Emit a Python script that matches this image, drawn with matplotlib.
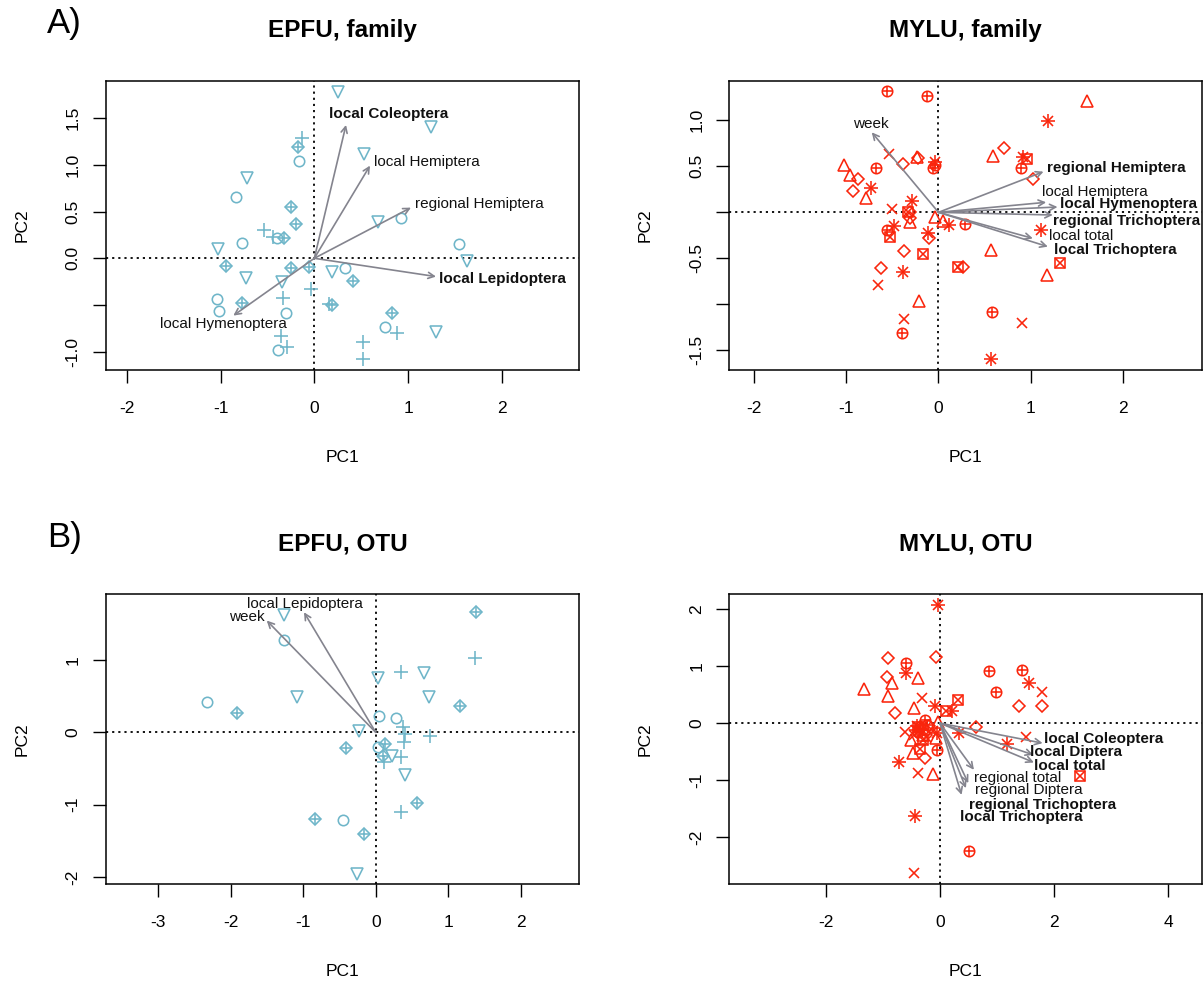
import matplotlib
matplotlib.use("Agg")
import matplotlib.pyplot as plt

plt.rcParams['font.family'] = ['Liberation Sans', 'DejaVu Sans']

CYAN = '#6fb6c9'
RED = '#fa250c'
ARROW = '#84848e'

# ---------------- A) EPFU, family ----------------
epfu_fam_circle = [(-0.167, 1.043), (-0.836, 0.657), (-0.772, 0.168), (-0.395, 0.214),
                   (0.924, 0.429), (1.547, 0.154), (0.324, -0.107), (-1.035, -0.439),
                   (-1.017, -0.561), (-0.299, -0.589), (-0.384, -0.986), (0.757, -0.736)]
epfu_fam_plus = [(-0.135, 1.286), (-0.540, 0.304), (-0.437, 0.232), (-0.032, -0.332),
                 (-0.338, -0.421), (0.160, -0.493), (-0.359, -0.829), (-0.288, -0.946),
                 (0.523, -0.893), (0.516, -1.079), (0.885, -0.804)]
epfu_fam_tri = [(0.256, 1.786), (1.241, 1.411), (0.533, 1.114), (-0.722, 0.864),
                (0.676, 0.386), (-1.024, 0.100), (-0.732, -0.214), (-0.345, -0.257),
                (0.185, -0.143), (1.625, -0.029), (1.294, -0.793)]
epfu_fam_dplus = [(-0.178, 1.196), (-0.249, 0.554), (-0.196, 0.368), (-0.320, 0.214),
                  (-0.939, -0.079), (-0.252, -0.107), (-0.053, -0.096), (0.416, -0.243),
                  (-0.772, -0.482), (0.192, -0.500), (0.832, -0.582)]
# name, arrow tip, label position, bold
epfu_fam_arrows = [('local Coleoptera', (0.338, 1.429), (0.789, 1.547), True),
                   ('local Hemiptera', (0.594, 0.993), (1.199, 1.029), False),
                   ('regional Hemiptera', (1.031, 0.543), (1.764, 0.579), False),
                   ('local Lepidoptera', (1.298, -0.196), (2.007, -0.222), True),
                   ('local Hymenoptera', (-0.864, -0.614), (-0.965, -0.701), False)]

# ---------------- MYLU, family ----------------
mylu_fam_cplus = [(-0.554, 1.319), (-0.127, 1.268), (-0.680, 0.478), (-0.054, 0.486),
                  (-0.040, 0.510), (0.898, 0.486), (0.290, -0.127), (-0.561, -0.192),
                  (0.579, -1.080), (-0.391, -1.315)]
mylu_fam_tri = [(1.614, 1.210), (0.597, 0.609), (-1.021, 0.514), (-0.959, 0.406),
                (-0.785, 0.152), (-0.235, 0.605), (-0.036, -0.047), (0.047, -0.091),
                (-0.308, -0.109), (0.568, -0.409), (1.176, -0.681), (-0.206, -0.964)]
mylu_fam_diamond = [(0.706, 0.703), (-0.387, 0.522), (-0.217, 0.587), (-0.876, 0.359),
                    (-0.923, 0.236), (1.021, 0.359), (-0.308, 0.007), (-0.308, -0.065),
                    (-0.101, -0.275), (-0.376, -0.420), (-0.623, -0.601), (0.271, -0.591)]
mylu_fam_star = [(1.194, 0.996), (0.912, 0.605), (-0.036, 0.551), (-0.731, 0.268),
                 (-0.290, 0.123), (-0.481, -0.145), (-0.109, -0.228), (0.109, -0.138),
                 (1.111, -0.192), (-0.380, -0.645), (0.568, -1.598)]
mylu_fam_cross = [(-0.532, 0.630), (-0.507, 0.033), (-0.655, -0.790), (-0.376, -1.163),
                  (0.905, -1.199)]
mylu_fam_sqx = [(0.966, 0.576), (-0.333, 0.007), (-0.521, -0.272), (-0.170, -0.453),
                (0.210, -0.598), (1.321, -0.554)]
mylu_fam_arrows = [('week', (-0.724, 0.870), (-0.739, 0.960), False),
                   ('regional Hemiptera', (1.140, 0.442), (1.927, 0.485), True),
                   ('local Hemiptera', (1.169, 0.109), (1.696, 0.217), False),
                   ('local Hymenoptera', (1.292, 0.058), (2.062, 0.087), True),
                   ('regional Trichoptera', (1.241, -0.029), (2.041, -0.095), True),
                   ('local total', (1.024, -0.283), (1.553, -0.258), False),
                   ('local Trichoptera', (1.187, -0.373), (1.924, -0.410), True)]

# ---------------- B) EPFU, OTU ----------------
epfu_otu_tri = [(-1.260, 1.624), (-1.080, 0.485), (0.032, 0.757), (0.667, 0.821),
                (0.731, 0.494), (-0.225, 0.023), (0.225, -0.328), (0.409, -0.591),
                (-0.262, -1.961)]
epfu_otu_circle = [(-1.260, 1.278), (-2.322, 0.420), (0.041, 0.226), (0.280, 0.203),
                   (0.037, -0.198), (-0.455, -1.214)]
epfu_otu_plus = [(1.370, 1.024), (0.354, 0.831), (0.372, 0.078), (0.410, -0.020),
                 (0.749, -0.046), (0.391, -0.138), (0.354, -0.337), (0.110, -0.406),
                 (0.349, -1.098)]
epfu_otu_dplus = [(1.384, 1.661), (1.163, 0.369), (-1.917, 0.268), (-0.414, -0.217),
                  (0.129, -0.162), (0.106, -0.328), (0.575, -0.974), (-0.837, -1.204),
                  (-0.156, -1.407)]
epfu_otu_arrows = [('week', (-1.503, 1.546), (-1.771, 1.601), False),
                   ('local Lepidoptera', (-0.989, 1.661), (-0.973, 1.777), False)]

# ---------------- MYLU, OTU ----------------
mylu_otu_star = [(-0.029, 2.080), (-0.601, 0.879), (1.565, 0.703), (-0.088, 0.293),
                 (0.216, 0.217), (0.333, -0.176), (1.179, -0.363), (-0.718, -0.674),
                 (-0.438, -1.640), (-0.350, -0.117), (-0.058, -0.176), (-0.400, -0.050),
                 (-0.420, -0.120)]
mylu_otu_cplus = [(-0.601, 1.054), (0.858, 0.920), (1.430, 0.937), (0.975, 0.545),
                  (-0.058, -0.469), (0.514, -2.238), (-0.263, 0.059), (-0.234, -0.029),
                  (-0.300, -0.100), (-0.380, -0.150)]
mylu_otu_diamond = [(-0.917, 1.142), (-0.076, 1.160), (-0.934, 0.803), (-0.788, 0.187),
                    (1.389, 0.293), (1.780, 0.293), (0.625, -0.070), (-0.263, -0.615),
                    (-0.350, -0.059), (-0.250, -0.200), (-0.200, -0.050)]
mylu_otu_tri = [(-1.331, 0.598), (-0.846, 0.703), (-0.905, 0.469), (-0.379, 0.791),
                (-0.455, 0.264), (-0.029, 0.029), (-0.514, -0.293), (-0.479, -0.527),
                (-0.117, -0.890), (-0.070, -0.264), (-0.300, -0.200)]
mylu_otu_cross = [(-0.321, 0.439), (-0.613, -0.158), (1.500, -0.252), (1.792, 0.545),
                  (-0.379, -0.879), (-0.449, -2.636), (-0.117, -0.146), (-0.450, -0.200),
                  (-0.250, -0.250)]
mylu_otu_sqx = [(0.321, 0.410), (0.105, 0.217), (2.452, -0.937), (-0.350, -0.457),
                (-0.379, -0.059), (-0.300, -0.300)]
mylu_otu_arrows = [('local Coleoptera', (1.798, -0.351), (2.860, -0.275), True),
                   ('local Diptera', (1.635, -0.557), (2.385, -0.509), True),
                   ('local total', (1.646, -0.691), (2.277, -0.744), True),
                   ('regional total', (0.595, -0.820), (1.354, -0.965), False),
                   ('regional Diptera', (0.496, -1.054), (1.564, -1.170), False),
                   ('regional Trichoptera', (0.455, -1.142), (1.804, -1.433), True),
                   ('local Trichoptera', (0.379, -1.260), (1.419, -1.656), True)]

# R pch symbols built from matplotlib markers (marker, size)
SYMBOLS = {
    'circle': [('o', 7.5)],
    'plus': [('+', 9.5)],
    'tri_down': [('v', 8.5)],
    'tri_up': [('^', 8.5)],
    'diamond': [('D', 6.2)],
    'cross': [('x', 7.5)],
    'diamond_plus': [('D', 6.2), ('+', 8.8)],
    'circle_plus': [('o', 7.5), ('+', 7.5)],
    'square_x': [('s', 6.8), ('x', 6.8)],
    'asterisk': [('+', 9.5), ('x', 6.7)],
}

W, H = 1203, 982
fig = plt.figure(figsize=(W / 100, H / 100), dpi=100)


def px_axes(left, top, right, bottom):
    return fig.add_axes([left / W, 1 - bottom / H, (right - left) / W, (bottom - top) / H])


def draw_panel(ax, groups, color, arrows, xlim, ylim, xticks, yticks, ylabels):
    ax.axhline(0, color='black', lw=1.3, ls=(0, (1.2, 2.2)), zorder=1)
    ax.axvline(0, color='black', lw=1.3, ls=(0, (1.2, 2.2)), zorder=1)
    for pts, sym in groups:
        xs = [p[0] for p in pts]
        ys = [p[1] for p in pts]
        for m, s in SYMBOLS[sym]:
            ax.plot(xs, ys, ls='none', marker=m, ms=s, mfc='none', mec=color, mew=1.15, zorder=2)
    for name, tip, lab, bold in arrows:
        ax.annotate('', xy=tip, xytext=(0, 0),
                    arrowprops=dict(arrowstyle='->', color=ARROW, lw=1.2,
                                    shrinkA=0, shrinkB=0, mutation_scale=11), zorder=3)
        ax.text(lab[0], lab[1], name, ha='center', va='center', fontsize=11,
                fontweight='bold' if bold else 'normal', color='#111111', zorder=4)
    ax.set_xlim(xlim)
    ax.set_ylim(ylim)
    ax.set_xticks(xticks)
    ax.set_xticklabels([f'{t:g}' for t in xticks])
    ax.set_yticks(yticks)
    ax.set_yticklabels(ylabels, rotation=90, va='center')
    ax.tick_params(direction='out', length=9.1, width=1.0, labelsize=12.5)
    ax.tick_params(axis='x', pad=13.0)
    ax.tick_params(axis='y', pad=9.0)
    for sp in ax.spines.values():
        sp.set_linewidth(1.1)
    ax.annotate('PC1', xy=(0.5, 0), xycoords='axes fraction', xytext=(0, -87 * 0.72),
                textcoords='offset points', ha='center', va='center', fontsize=12.5)
    ax.annotate('PC2', xy=(0, 0.5), xycoords='axes fraction', xytext=(-84 * 0.72, 0),
                textcoords='offset points', ha='center', va='center', fontsize=12.5,
                rotation=90)


ax1 = px_axes(105.7, 80.7, 579, 370)
draw_panel(ax1, [(epfu_fam_circle, 'circle'), (epfu_fam_plus, 'plus'),
                 (epfu_fam_tri, 'tri_down'), (epfu_fam_dplus, 'diamond_plus')],
           CYAN, epfu_fam_arrows, (-2.225, 2.823), (-1.197, 1.903),
           [-2, -1, 0, 1, 2], [-1.0, -0.5, 0.0, 0.5, 1.0, 1.5],
           ['-1.0', '', '0.0', '0.5', '1.0', '1.5'])

ax2 = px_axes(729.3, 80.7, 1202, 370)
draw_panel(ax2, [(mylu_fam_cplus, 'circle_plus'), (mylu_fam_tri, 'tri_up'),
                 (mylu_fam_diamond, 'diamond'), (mylu_fam_star, 'asterisk'),
                 (mylu_fam_cross, 'cross'), (mylu_fam_sqx, 'square_x')],
           RED, mylu_fam_arrows, (-2.27, 2.86), (-1.714, 1.431),
           [-2, -1, 0, 1, 2], [-1.5, -1.0, -0.5, 0.0, 0.5, 1.0],
           ['-1.5', '', '-0.5', '', '0.5', '1.0'])

ax3 = px_axes(105.7, 594.3, 579, 884)
draw_panel(ax3, [(epfu_otu_circle, 'circle'), (epfu_otu_plus, 'plus'),
                 (epfu_otu_tri, 'tri_down'), (epfu_otu_dplus, 'diamond_plus')],
           CYAN, epfu_otu_arrows, (-3.724, 2.804), (-2.098, 1.909),
           [-3, -2, -1, 0, 1, 2], [-2, -1, 0, 1], ['-2', '-1', '0', '1'])

ax4 = px_axes(729.3, 594.3, 1202, 884)
draw_panel(ax4, [(mylu_otu_cplus, 'circle_plus'), (mylu_otu_tri, 'tri_up'),
                 (mylu_otu_diamond, 'diamond'), (mylu_otu_star, 'asterisk'),
                 (mylu_otu_cross, 'cross'), (mylu_otu_sqx, 'square_x')],
           RED, mylu_otu_arrows, (-3.69, 4.59), (-2.826, 2.264),
           [-2, 0, 2, 4], [-2, -1, 0, 1, 2], ['-2', '-1', '0', '1', '2'])

titles = [('EPFU, family', 342.4, 30), ('MYLU, family', 965.6, 30),
          ('EPFU, OTU', 342.4, 544), ('MYLU, OTU', 965.6, 544)]
for t, x, y in titles:
    fig.text(x / W, 1 - y / H, t, ha='center', va='center', fontsize=17.5, fontweight='bold')
fig.text(64 / W, 1 - 23 / H, 'A)', ha='center', va='center', fontsize=25)
fig.text(64 / W, 1 - 537 / H, 'B)', ha='center', va='center', fontsize=25)

fig.savefig('out.png', dpi=100)
